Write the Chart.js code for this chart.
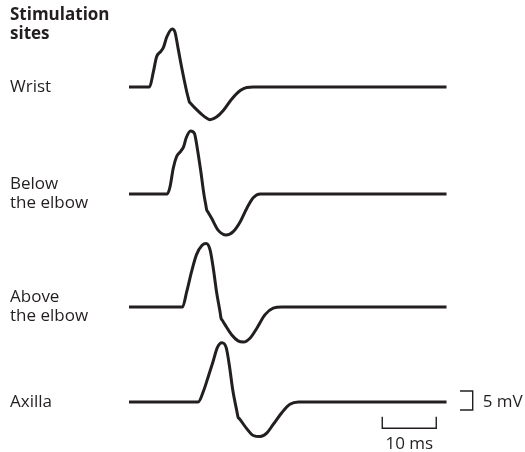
<!DOCTYPE html>
<html>
<head>
<meta charset="utf-8">
<script src="https://cdn.jsdelivr.net/npm/chart.js@4/dist/chart.umd.min.js"></script>
<style>
  html, body { margin: 0; padding: 0; background: #ffffff; }
  #wrap { width: 525px; height: 452px; }
</style>
</head>
<body>
<div id="wrap"><canvas id="c" width="525" height="452"></canvas></div>
<script>
// Compound muscle action potentials recorded at four stimulation sites.
// Times in ms from the start of each sweep, amplitudes in mV from baseline.
const siteNames = [["Wrist"], ["Below", "the elbow"], ["Above", "the elbow"], ["Axilla"]];

const wristMs  = [0, 3.8, 4.5, 5.1, 5.9, 6.4, 7.0, 8.0, 8.5, 9.1, 9.8, 10.7, 11.0, 11.17, 11.35, 12.2, 13.8, 15.0, 16.2, 17.5, 19.0, 20.6, 21.8, 23.0, 58.8];
const wristMv  = [0, 0, 3.9, 7.9, 9.4, 10.5, 13.2, 15.3, 14.5, 10.1, 4.8, -1.3, -3.0, -3.9, -4.2, -5.5, -7.6, -8.6, -7.9, -6.1, -3.2, -0.9, -0.1, 0, 0];

const belowMs  = [0, 7.1, 7.6, 8.2, 8.8, 9.6, 10.1, 10.6, 11.4, 12.1, 12.65, 13.3, 13.9, 14.2, 14.39, 14.6, 15.3, 16.5, 18.0, 19.3, 20.6, 21.8, 23.0, 24.3, 58.8];
const belowMv  = [0, 0, 1.9, 6.8, 9.8, 11.3, 12.4, 14.8, 16.6, 16.0, 12.0, 5.9, -0.3, -2.7, -4.2, -4.7, -6.4, -9.5, -10.8, -9.9, -7.3, -3.8, -1.0, 0, 0];

const aboveMs  = [0, 9.9, 10.7, 11.6, 12.5, 13.5, 14.3, 15.0, 15.6, 16.2, 16.85, 17.04, 17.25, 17.8, 19.0, 20.2, 21.2, 22.4, 23.7, 25.2, 26.7, 28.3, 58.8];
const aboveMv  = [0, 0, 4.1, 9.4, 13.8, 16.2, 16.7, 15.1, 10.3, 4.1, -1.2, -2.9, -3.4, -4.7, -7.3, -8.9, -9.2, -8.2, -5.5, -2.0, -0.3, 0, 0];

const axillaMs = [0, 12.8, 13.8, 14.7, 15.6, 16.35, 17.2, 18.0, 18.6, 19.2, 20.0, 20.2, 20.45, 21.8, 23.0, 24.3, 25.5, 26.7, 28.3, 29.8, 31.4, 58.8];
const axillaMv = [0, 0, 2.9, 6.8, 10.8, 14.3, 15.6, 14.3, 9.5, 3.3, -2.6, -4.0, -4.4, -7.0, -8.8, -9.1, -8.2, -5.9, -2.8, -0.6, 0, 0];

// Vertical displacement (mV) applied to each trace so they stack down the page.
const traceOffsets = [-22.9, -51.05, -80.8, -105.8];

// Calibration bars.
const calTimeMs = 10;
const calAmpMv = 5;

const INK = '#231f20';
const FONT = '"Open Sans", "Noto Sans", sans-serif';

const traces = [
  [wristMs, wristMv],
  [belowMs, belowMv],
  [aboveMs, aboveMv],
  [axillaMs, axillaMv]
];

const traceSets = traces.map(([ms, mv], i) => ({
  label: siteNames[i].join(' '),
  data: ms.map((t, k) => ({ x: t, y: mv[k] + traceOffsets[i] })),
  borderColor: INK,
  borderWidth: 3,
  pointRadius: 0,
  cubicInterpolationMode: 'monotone',
  borderJoinStyle: 'round',
  fill: false
}));

// Time bar sits under the tail of the last trace, amplitude bracket to its right.
const timeBarStart = 46.9, timeBarY = -112.7, tickRise = 3.0;
const ampBarX = 63.65, ampBarTop = -102.9, ampTick = 2.35;

const timeBar = {
  label: calTimeMs + ' ms',
  data: [
    { x: timeBarStart, y: timeBarY + tickRise },
    { x: timeBarStart, y: timeBarY },
    { x: timeBarStart + calTimeMs, y: timeBarY },
    { x: timeBarStart + calTimeMs, y: timeBarY + tickRise }
  ],
  borderColor: INK, borderWidth: 1.4, pointRadius: 0, tension: 0, fill: false
};

const ampBar = {
  label: calAmpMv + ' mV',
  data: [
    { x: ampBarX - ampTick, y: ampBarTop },
    { x: ampBarX, y: ampBarTop },
    { x: ampBarX, y: ampBarTop - calAmpMv },
    { x: ampBarX - ampTick, y: ampBarTop - calAmpMv }
  ],
  borderColor: INK, borderWidth: 1.4, pointRadius: 0, tension: 0, fill: false
};

const labelsPlugin = {
  id: 'siteLabels',
  afterDraw(chart) {
    const ctx = chart.ctx;
    const ys = chart.scales.y, xs = chart.scales.x;
    ctx.save();
    ctx.fillStyle = INK;
    ctx.textAlign = 'left';
    ctx.textBaseline = 'alphabetic';

    ctx.font = 'bold 17px ' + FONT;
    ctx.fillText('Stimulation', 10, 20);
    ctx.fillText('sites', 10, 39);

    ctx.font = '17px ' + FONT;
    siteNames.forEach((lines, i) => {
      const base = ys.getPixelForValue(traceOffsets[i]);
      if (lines.length === 1) {
        ctx.fillText(lines[0], 10, base + 5);
      } else {
        ctx.fillText(lines[0], 10, base - 5);
        ctx.fillText(lines[1], 10, base + 14);
      }
    });

    // calibration captions
    ctx.textAlign = 'center';
    ctx.fillText(calTimeMs + ' ms', xs.getPixelForValue(timeBarStart + calTimeMs / 2), ys.getPixelForValue(timeBarY) + 21);
    ctx.textAlign = 'left';
    ctx.fillText(calAmpMv + ' mV', xs.getPixelForValue(ampBarX) + 10, ys.getPixelForValue(ampBarTop - calAmpMv / 2) + 6);
    ctx.restore();
  }
};

new Chart(document.getElementById('c'), {
  type: 'line',
  data: { datasets: [...traceSets, timeBar, ampBar] },
  options: {
    responsive: false,
    animation: false,
    devicePixelRatio: 1,
    layout: { padding: { left: 129, right: 0, top: 0, bottom: 0 } },
    plugins: { legend: { display: false }, tooltip: { enabled: false } },
    scales: {
      x: { type: 'linear', min: 0, max: 396 / 5.4, display: false },
      y: { type: 'linear', min: -452 / 3.8, max: 0, display: false }
    }
  },
  plugins: [labelsPlugin]
});
</script>
</body>
</html>
